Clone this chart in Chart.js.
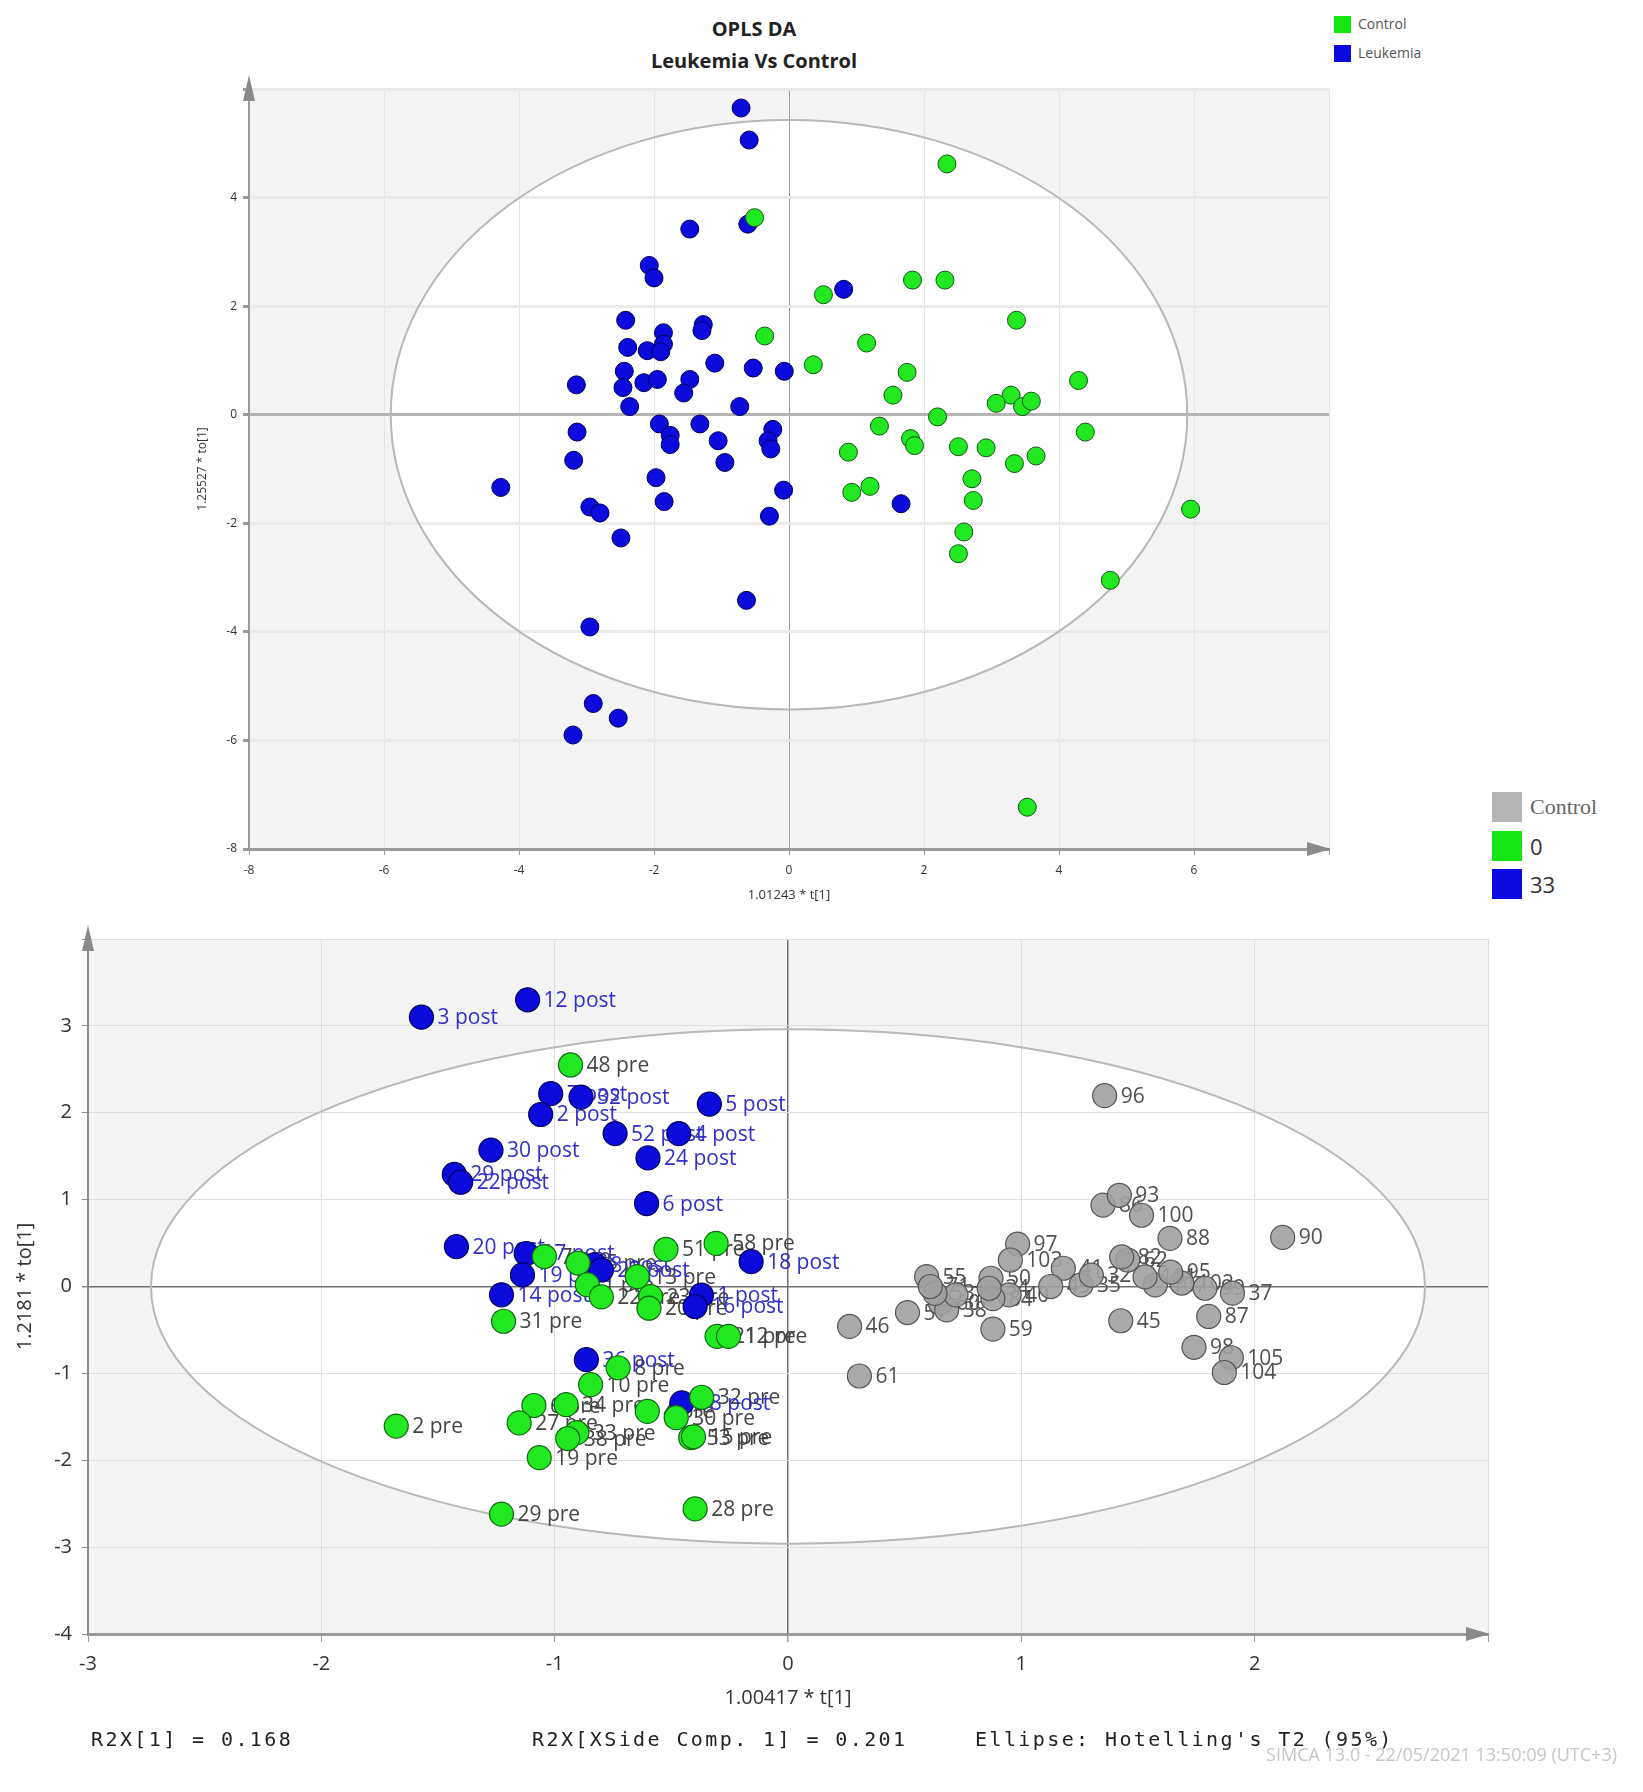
<!DOCTYPE html>
<html>
<head>
<meta charset="utf-8">
<title>OPLS DA - Leukemia Vs Control</title>
<script src="https://cdn.jsdelivr.net/npm/chart.js@4.4.1/dist/chart.umd.min.js"></script>
<style>
  html, body { margin: 0; padding: 0; background: #fff; }
  body { width: 1643px; height: 1792px; position: relative; overflow: hidden; font-family: 'Open Sans', sans-serif; }
  canvas { position: absolute; left: 0; }
  #top-chart { top: 0; }
  #bottom-chart { top: 900px; }
  .title { position: absolute; left: 554px; width: 400px; text-align: center; font-weight: bold; font-size: 20px; line-height: 24px; color: #222; }
  .legend-item { position: absolute; height: 30px; }
  .swatch { position: absolute; left: 0; top: 0; }
  .legend-text { position: absolute; white-space: nowrap; }
  .small .swatch { width: 17px; height: 17px; }
  .small .legend-text { left: 24px; top: -2px; font-size: 14px; line-height: 20px; color: #555; font-family: 'Liberation Sans Narrow', 'Open Sans', sans-serif; }
  .big .swatch { width: 30px; height: 30px; }
  .big .legend-text { left: 38px; top: 1px; font-size: 22px; line-height: 28px; color: #333; }
  .footer { position: absolute; top: 1727px; font-family: 'DejaVu Sans Mono', monospace; font-size: 20px; line-height: 24px; letter-spacing: 2.4px; color: #222; white-space: nowrap; }
  .stamp { position: absolute; top: 1742px; right: 26px; font-family: 'Liberation Sans Narrow', 'Open Sans', sans-serif; font-size: 18px; line-height: 24px; color: #c6c6c6; white-space: nowrap; }
</style>
</head>
<body>
<div class="title" style="top:17px">OPLS DA</div>
<div class="title" style="top:49px">Leukemia Vs Control</div>

<div class="legend-item small" style="left:1334px; top:16px"><span class="swatch" style="background:#14e614"></span><span class="legend-text">Control</span></div>
<div class="legend-item small" style="left:1334px; top:45px"><span class="swatch" style="background:#0a0ae0"></span><span class="legend-text">Leukemia</span></div>

<div class="legend-item big" style="left:1492px; top:792px"><span class="swatch" style="background:#b4b4b4"></span><span class="legend-text" style="font-family:'Liberation Serif', serif; color:#666">Control</span></div>
<div class="legend-item big" style="left:1492px; top:831px"><span class="swatch" style="background:#14e614"></span><span class="legend-text">0</span></div>
<div class="legend-item big" style="left:1492px; top:869px"><span class="swatch" style="background:#0a0ae0"></span><span class="legend-text">33</span></div>

<canvas id="top-chart"></canvas>
<canvas id="bottom-chart"></canvas>

<div class="footer" style="left:91px">R2X[1] = 0.168</div>
<div class="footer" style="left:532px">R2X[XSide Comp. 1] = 0.201</div>
<div class="footer" style="left:975px">Ellipse: Hotelling's T2 (95%)</div>
<div class="stamp">SIMCA 13.0 - 22/05/2021 13:50:09 (UTC+3)</div>

<script>
// ---- top plot: OPLS DA, Leukemia Vs Control ----
const topControlX = [2.34, -0.51, 0.51, 1.83, 2.31, 3.37, -0.36, 1.15, 0.36, 1.75, 4.29, 1.54, 3.29, 3.07, 3.46, 3.59, 2.20, 1.34,
  4.39, 1.80, 1.86, 2.51, 2.92, 0.88, 3.66, 3.34, 2.71, 1.20, 0.93, 2.73, 5.95, 2.59, 2.51, 4.76, 3.53];
const topControlY = [4.62, 3.63, 2.21, 2.48, 2.48, 1.74, 1.45, 1.32, 0.92, 0.78, 0.63, 0.36, 0.36, 0.21, 0.15, 0.25, -0.04, -0.21,
  -0.32, -0.44, -0.57, -0.59, -0.61, -0.69, -0.76, -0.90, -1.18, -1.32, -1.43, -1.58, -1.74, -2.16, -2.56, -3.05, -7.23];
const topLeukemiaX = [-0.71, -0.59, -1.47, -0.61, -2.07, -2.00, 0.81, -2.42, -1.27, -1.29, -1.86, -2.39, -2.10, -1.86, -1.90, -1.10,
  -0.53, -0.07, -2.44, -3.15, -2.46, -2.15, -1.95, -1.47, -1.56, -2.36, -0.73, -1.92, -1.32, -3.14, -1.76, -1.76, -1.05, -0.24,
  -0.31, -0.27, -3.19, -0.95, -4.27, -1.97, -0.08, -2.95, -2.80, -1.85, 1.66, -0.29, -2.49, -0.63, -2.95, -2.90, -2.53, -3.20];
const topLeukemiaY = [5.65, 5.06, 3.42, 3.51, 2.75, 2.52, 2.31, 1.74, 1.66, 1.55, 1.51, 1.24, 1.18, 1.30, 1.16, 0.95,
  0.86, 0.80, 0.80, 0.55, 0.50, 0.59, 0.65, 0.65, 0.40, 0.15, 0.15, -0.17, -0.17, -0.32, -0.38, -0.55, -0.48, -0.27,
  -0.48, -0.63, -0.84, -0.88, -1.34, -1.16, -1.39, -1.70, -1.81, -1.60, -1.64, -1.87, -2.27, -3.42, -3.91, -5.32, -5.59, -5.90];

// ---- bottom plot: scores with pre / post / control labels ----
const postX = [-1.571, -1.116, -1.017, -0.887, -1.06, -0.337, -0.741, -0.468, -1.273, -0.60, -1.43, -1.403, -0.606, -1.421,
  -1.122, -1.138, -1.228, -0.158, -0.83, -0.80, -0.371, -0.398, -0.864, -0.455];
const postY = [3.10, 3.30, 2.22, 2.18, 1.98, 2.10, 1.76, 1.76, 1.57, 1.48, 1.29, 1.20, 0.955, 0.458,
  0.38, 0.133, -0.096, 0.286, 0.25, 0.19, -0.10, -0.23, -0.842, -1.34];
const postLabels = ['3 post', '12 post', '7 post', '32 post', '2 post', '5 post', '52 post', '4 post', '30 post', '24 post',
  '29 post', '22 post', '6 post', '20 post', '17 post', '19 post', '14 post', '18 post', '8 post', '23 post', '1 post',
  '16 post', '36 post', '38 post'];

const preX = [-0.932, -0.308, -0.523, -1.044, -0.90, -0.86, -0.80, -0.646, -0.589, -0.596, -1.219, -0.304, -0.255, -0.728,
  -0.846, -1.679, -1.089, -1.152, -0.951, -0.603, -0.905, -0.944, -1.066, -1.228, -0.398, -0.370, -0.479, -0.417, -0.405];
const preY = [2.55, 0.497, 0.428, 0.345, 0.27, 0.02, -0.12, 0.114, -0.116, -0.25, -0.40, -0.574, -0.574, -0.935,
  -1.13, -1.607, -1.37, -1.57, -1.36, -1.437, -1.683, -1.75, -1.97, -2.62, -2.56, -1.275, -1.51, -1.74, -1.73];
const preLabels = ['48 pre', '58 pre', '51 pre', '7 pre', '15 pre', '1 pre', '22 pre', '13 pre', '23 pre', '20 pre', '31 pre',
  '21 pre', '12 pre', '8 pre', '10 pre', '2 pre', '6 pre', '27 pre', '34 pre', '4 pre', '33 pre', '38 pre', '19 pre', '29 pre',
  '28 pre', '32 pre', '30 pre', '53 pre', '15 pre'];

const ctrlX = [1.357, 1.35, 1.42, 1.515, 1.637, 2.12, 0.984, 0.953, 0.594, 0.87, 1.18, 1.456, 1.43, 1.256, 1.30, 1.126, 0.948,
  0.878, 0.862, 0.653, 0.68, 0.72, 0.63, 0.61, 0.264, 0.512, 0.878, 0.306, 1.426, 1.803, 1.74, 1.90, 1.87, 1.905, 1.787,
  1.688, 1.574, 1.53, 1.64];
const ctrlY = [2.197, 0.936, 1.05, 0.82, 0.554, 0.565, 0.488, 0.305, 0.114, 0.095, 0.21, 0.305, 0.34, 0.018, 0.13, 0.0, -0.096,
  -0.14, -0.02, -0.19, -0.27, -0.096, -0.08, 0.0, -0.46, -0.30, -0.49, -1.03, -0.394, -0.345, -0.70, -0.82, -0.99, -0.077, -0.02,
  0.04, 0.018, 0.11, 0.165];
const ctrlLabels = ['96', '86', '93', '100', '88', '90', '97', '103', '55', '50', '41', '62', '82', '35', '32', '49', '40',
  '84', '34', '60', '38', '73', '53', '71', '46', '57', '59', '61', '45', '87', '98', '105', '104', '37', '99',
  '102', '107', '101', '95'];

const toPoints = (xs, ys) => xs.map((x, i) => ({x: x, y: ys[i]}));

// grey plot area with white confidence ellipse, axis arrows, point labels
const scorePlotPlugin = {
  id: 'scorePlot',
  beforeDraw(chart, args, opts) {
    const {ctx, chartArea: a, scales} = chart;
    ctx.save();
    ctx.fillStyle = '#f4f4f4';
    ctx.fillRect(a.left, a.top, a.right - a.left, a.bottom - a.top);
    const cx = scales.x.getPixelForValue(0);
    const cy = scales.y.getPixelForValue(0);
    const rx = Math.abs(scales.x.getPixelForValue(opts.rx) - cx);
    const ry = Math.abs(scales.y.getPixelForValue(opts.ry) - cy);
    ctx.beginPath();
    ctx.rect(a.left, a.top, a.right - a.left, a.bottom - a.top);
    ctx.clip();
    ctx.beginPath();
    ctx.ellipse(cx, cy, rx, ry, 0, 0, Math.PI * 2);
    ctx.fillStyle = '#ffffff';
    ctx.fill();
    ctx.restore();
  },
  beforeDatasetsDraw(chart, args, opts) {
    const {ctx, chartArea: a, scales} = chart;
    const cx = scales.x.getPixelForValue(0);
    const cy = scales.y.getPixelForValue(0);
    const rx = Math.abs(scales.x.getPixelForValue(opts.rx) - cx);
    const ry = Math.abs(scales.y.getPixelForValue(opts.ry) - cy);
    ctx.save();
    ctx.beginPath();
    ctx.ellipse(cx, cy, rx, ry, 0, 0, Math.PI * 2);
    ctx.strokeStyle = '#b8b8b8';
    ctx.lineWidth = 2;
    ctx.stroke();

    // labels go under the markers, like the original export
    ctx.font = opts.labelFont;
    ctx.textBaseline = 'middle';
    chart.data.datasets.forEach((ds, i) => {
      if (!ds.pointLabels) return;
      const meta = chart.getDatasetMeta(i);
      ctx.fillStyle = ds.labelColor;
      meta.data.forEach((pt, j) => {
        ctx.fillText(ds.pointLabels[j], pt.x + ds.pointRadius + 4, pt.y + 1);
      });
    });

    // arrow heads on the axes
    ctx.fillStyle = opts.arrowColor;
    ctx.beginPath();
    ctx.moveTo(a.left, a.top - 14);
    ctx.lineTo(a.left - 6, a.top + 12);
    ctx.lineTo(a.left + 6, a.top + 12);
    ctx.closePath();
    ctx.fill();
    ctx.beginPath();
    ctx.moveTo(a.right + 2, a.bottom);
    ctx.lineTo(a.right - 22, a.bottom - 7);
    ctx.lineTo(a.right - 22, a.bottom + 7);
    ctx.closePath();
    ctx.fill();
    ctx.restore();
  }
};

function makeScale(o) {
  return {
    type: 'linear',
    min: o.min,
    max: o.max,
    afterFit: (scale) => {
      if (scale.isHorizontal()) scale.height = o.size;
      else scale.width = o.size;
    },
    border: {display: true, color: o.axisColor, width: o.axisWidth},
    grid: {
      drawTicks: true,
      tickLength: o.tickLength,
      tickColor: o.axisColor,
      color: (c) => {
        const v = c.tick ? c.tick.value : NaN;
        if (v === 0) return o.zeroColor;
        return (v % o.labelStep === 0) ? o.gridColor : 'rgba(0,0,0,0)';
      },
      lineWidth: (c) => {
        const v = c.tick ? c.tick.value : NaN;
        if (v === 0) return o.zeroWidth;
        return (v % o.labelStep === 0) ? o.gridWidth : 0;
      }
    },
    ticks: {
      stepSize: o.step,
      autoSkip: false,
      maxRotation: 0,
      padding: o.tickPadding,
      color: '#333',
      font: {family: "'Open Sans', sans-serif", size: o.fontSize},
      callback: (v) => (v % o.labelStep === 0 && v !== o.max) ? String(v) : ''
    },
    title: {
      display: true,
      text: o.title,
      color: '#333',
      padding: o.titlePadding,
      font: {family: "'Open Sans', sans-serif", size: o.titleSize}
    }
  };
}

const topCanvas = document.getElementById('top-chart');
topCanvas.width = 1643;
topCanvas.height = 920;
new Chart(topCanvas, {
  type: 'scatter',
  data: {
    datasets: [
      {
        label: 'Control',
        data: toPoints(topControlX, topControlY),
        backgroundColor: '#22e822',
        borderColor: '#0f5a0f',
        borderWidth: 1,
        pointRadius: 9,
        order: 0
      },
      {
        label: 'Leukemia',
        data: toPoints(topLeukemiaX, topLeukemiaY),
        backgroundColor: '#0b0bdc',
        borderColor: '#00005a',
        borderWidth: 1,
        pointRadius: 9,
        order: 1
      }
    ]
  },
  options: {
    responsive: false,
    animation: false,
    layout: {padding: {left: 189, right: 314, top: 89, bottom: 11}},
    plugins: {
      legend: {display: false},
      tooltip: {enabled: false},
      scorePlot: {rx: 5.9, ry: 5.43, labelFont: "12px 'Open Sans'", arrowColor: '#8a8a8a'}
    },
    scales: {
      x: makeScale({min: -8, max: 8, step: 1, labelStep: 2, size: 60, axisColor: '#9a9a9a', axisWidth: 3,
        tickLength: 6, tickPadding: 8, fontSize: 12, gridColor: '#e4e4e4', gridWidth: 1, zeroColor: '#9a9a9a', zeroWidth: 1,
        title: '1.01243 * t[1]', titleSize: 13, titlePadding: {top: 0, bottom: 6}}),
      y: makeScale({min: -8, max: 6, step: 1, labelStep: 2, size: 60, axisColor: '#9a9a9a', axisWidth: 2,
        tickLength: 6, tickPadding: 6, fontSize: 12, gridColor: '#eaeaea', gridWidth: 3, zeroColor: '#b5b5b5', zeroWidth: 3,
        title: '1.25527 * to[1]', titleSize: 12, titlePadding: {top: 6, bottom: 0}})
    }
  },
  plugins: [scorePlotPlugin]
});

const bottomCanvas = document.getElementById('bottom-chart');
bottomCanvas.width = 1643;
bottomCanvas.height = 830;
new Chart(bottomCanvas, {
  type: 'scatter',
  data: {
    datasets: [
      {
        label: '0',
        data: toPoints(preX, preY),
        pointLabels: preLabels,
        labelColor: '#444',
        backgroundColor: '#22e822',
        borderColor: '#0f6a0f',
        borderWidth: 1.2,
        pointRadius: 12,
        order: 0
      },
      {
        label: '33',
        data: toPoints(postX, postY),
        pointLabels: postLabels,
        labelColor: '#3030c8',
        backgroundColor: '#0b0bdc',
        borderColor: '#00005a',
        borderWidth: 1.2,
        pointRadius: 12,
        order: 1
      },
      {
        label: 'Control',
        data: toPoints(ctrlX, ctrlY),
        pointLabels: ctrlLabels,
        labelColor: '#505050',
        backgroundColor: 'rgba(160,160,160,0.9)',
        borderColor: '#555',
        borderWidth: 1.2,
        pointRadius: 12,
        order: 2
      }
    ]
  },
  options: {
    responsive: false,
    animation: false,
    layout: {padding: {left: 0, right: 155, top: 39, bottom: 12}},
    plugins: {
      legend: {display: false},
      tooltip: {enabled: false},
      scorePlot: {rx: 2.73, ry: 2.96, labelFont: "21px 'Open Sans'", arrowColor: '#8a8a8a'}
    },
    scales: {
      x: makeScale({min: -3, max: 3, step: 0.5, labelStep: 1, size: 84, axisColor: '#9a9a9a', axisWidth: 3,
        tickLength: 8, tickPadding: 10, fontSize: 20, gridColor: '#dedede', gridWidth: 1, zeroColor: '#707070', zeroWidth: 1.5,
        title: '1.00417 * t[1]', titleSize: 20, titlePadding: {top: 0, bottom: 8}}),
      y: makeScale({min: -4, max: 4, step: 0.5, labelStep: 1, size: 88, axisColor: '#8a8a8a', axisWidth: 2,
        tickLength: 6, tickPadding: 10, fontSize: 20, gridColor: '#dedede', gridWidth: 1, zeroColor: '#707070', zeroWidth: 1.5,
        title: '1.2181 * to[1]', titleSize: 20, titlePadding: {top: 13, bottom: 0}})
    }
  },
  plugins: [scorePlotPlugin]
});
</script>
</body>
</html>
